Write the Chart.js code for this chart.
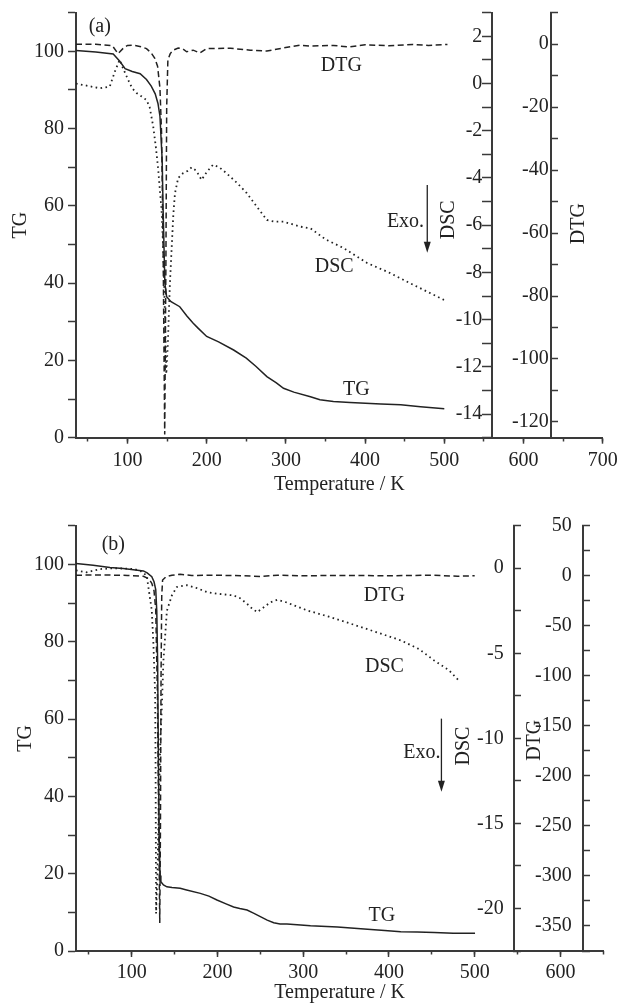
<!DOCTYPE html>
<html>
<head>
<meta charset="utf-8">
<script src="https://cdn.jsdelivr.net/npm/chart.js@4.4.1/dist/chart.umd.min.js"></script>
<style>
  html, body { margin: 0; padding: 0; background: #fff; }
  body { width: 619px; height: 1008px; position: relative; overflow: hidden; }
  .panel { position: absolute; left: 0; width: 619px; }
  #panelA { top: 0; height: 500px; }
  #panelB { top: 500px; height: 508px; }
</style>
</head>
<body>
<div class="panel" id="panelA"><canvas id="chartA" width="619" height="500"></canvas></div>
<div class="panel" id="panelB"><canvas id="chartB" width="619" height="508"></canvas></div>
<script>
// ---- panel (a) ----  temperatures (K) and readings
const tgA_T  = [35, 60, 82, 90, 97, 106, 116, 124, 130, 135, 138.5, 141, 143.8, 145, 147.2, 149.4, 155, 166, 175, 183, 189.4, 200, 215, 234, 250, 262, 276, 288, 297, 310, 331, 343, 360, 381, 420, 445, 470, 500];
const tgA    = [100.2, 99.8, 99.3, 97.5, 95.5, 94.8, 94.2, 92.7, 91, 89, 86.5, 83.2, 71.9, 59, 40, 36.5, 35.2, 33.9, 31.5, 29.6, 28.3, 26.2, 24.8, 22.7, 20.6, 18.5, 15.8, 14.2, 12.8, 11.8, 10.6, 9.8, 9.4, 9.1, 8.7, 8.5, 8.0, 7.5];
const dtgA_T = [35, 60, 81, 88, 95, 100, 107, 117, 124, 130, 134.5, 138, 141, 143, 145, 147, 148.5, 149.5, 151, 154, 157.7, 164, 170, 174.7, 183, 191.5, 200, 230, 255, 276, 297, 318, 331, 360, 380, 400, 430, 460, 480, 504];
const dtgA   = [0, 0, -0.5, -3, -1.2, -0.4, -0.3, -0.8, -1.4, -2.8, -4.5, -7, -14, -28, -65, -124, -70, -20, -5, -3, -1.9, -1.2, -1.5, -2.4, -1.9, -2.8, -1.4, -1.3, -1.9, -2.2, -1.2, -0.3, -0.6, -0.4, -0.9, -0.2, -0.5, -0.1, -0.4, -0.1];
const dscA_T = [35, 50, 65, 77.6, 84, 90, 95, 100.8, 106, 111.4, 118, 124, 128, 132.4, 135.5, 138.7, 143, 145, 147, 149, 151, 153.5, 155.7, 158, 160, 164, 170, 176, 181, 187, 193.5, 200, 208, 216, 225, 238, 250.6, 263, 276, 286, 297, 318, 331, 350, 373, 402.5, 430, 457, 500];
const dscA   = [0, -0.1, -0.2, -0.13, 0.5, 1.0, 0.6, 0.16, -0.2, -0.4, -0.55, -0.7, -1.0, -1.8, -2.6, -3.6, -5.35, -6.9, -9.5, -12.3, -11, -8.5, -7.0, -5.5, -4.64, -4.0, -3.8, -3.7, -3.55, -3.7, -4.08, -3.75, -3.44, -3.55, -3.8, -4.2, -4.64, -5.2, -5.78, -5.85, -5.85, -6.06, -6.13, -6.6, -6.97, -7.6, -8.0, -8.46, -9.17];

// ---- panel (b) ----
const tgB_T  = [35, 55, 74.6, 90, 101.9, 113.6, 118, 123.4, 126, 128, 129.2, 130.2, 131.1, 132, 133, 134, 137, 141, 147, 156.5, 164, 180, 190, 199.4, 210, 218.8, 226, 234.5, 242, 250, 258, 265.6, 273, 281, 297, 308.5, 340, 375, 395, 413.8, 433, 452.7, 475, 500.4];
const tgB    = [100.2, 99.8, 99.2, 98.9, 98.6, 98.3, 97.8, 96.8, 95.5, 93.5, 88, 75, 50, 30, 19.5, 17.9, 17.1, 16.6, 16.4, 16.2, 15.8, 14.9, 14.2, 13.2, 12.2, 11.4, 11.0, 10.6, 9.8, 8.9, 8.0, 7.3, 7.0, 7.0, 6.7, 6.5, 6.2, 5.6, 5.3, 5.0, 4.9, 4.8, 4.6, 4.6];
const dtgB_T = [35, 55, 74.6, 95, 113.6, 120, 123.4, 126, 128, 130, 131.5, 132.7, 133.5, 134.2, 135, 136, 140, 146.8, 156.5, 170, 200, 230, 250, 270, 300, 350, 400, 450, 480, 500];
const dtgB   = [0.5, 0.8, 0.7, 0.3, -0.5, -3, -7.6, -15, -34, -120, -250, -347, -250, -100, -20, -4.3, -1, 0.5, 1.5, 0.3, 0.5, 0, -0.8, 0.5, 0, 0.3, 0, 0.5, -0.5, 0];
const dscB_T = [35, 47, 63, 80, 101.9, 110, 117.5, 119.4, 123.4, 125.3, 127.3, 127.8, 128.4, 130, 131.5, 133.5, 135, 137, 141, 146.8, 152.6, 164.3, 175, 187.7, 200, 218.8, 226, 234.5, 240, 246.2, 254, 261.8, 269.6, 280, 290, 304.7, 330, 355.3, 385, 413.8, 435, 452.7, 470, 483.2];
const dscB   = [-0.13, -0.24, -0.05, 0, -0.04, -0.15, -0.43, -1.1, -2.48, -4.44, -7.4, -11.3, -20.3, -18, -14, -10, -8.3, -5.4, -2.5, -1.6, -1.1, -1.0, -1.15, -1.4, -1.5, -1.6, -1.75, -2.09, -2.35, -2.58, -2.3, -2.0, -1.86, -2.0, -2.2, -2.48, -2.85, -3.26, -3.75, -4.24, -4.75, -5.42, -6.0, -6.69];

const INK = '#222';
const AXIS = '#3a3a3a';
const SERIF = "'Liberation Serif', 'Times New Roman', serif";
const X_MIN = 35;
const PLOT_LEFT = 76;

Chart.defaults.font.family = SERIF;
Chart.defaults.font.size = 20;
Chart.defaults.color = INK;

const pts = (xs, ys) => xs.map((x, i) => ({ x, y: ys[i] }));
// label only every `step`, the ticks in between stay as minor marks
const every = step => v => (Math.abs(v / step - Math.round(v / step)) < 1e-6 ? String(v) : '');
// keep tick labels from pushing the plot area around
const noPad = s => { s.paddingTop = 0; s.paddingBottom = 0; s.paddingLeft = 0; s.paddingRight = 0; };

/* in-plot captions and the Exo. arrow, placed in data units of the x / TG scales */
const notesPlugin = {
  id: 'notes',
  afterDatasetsDraw(chart, args, opts) {
    const { ctx } = chart;
    const x = chart.scales.x, y = chart.scales.y;
    ctx.save();
    ctx.fillStyle = INK;
    ctx.strokeStyle = INK;
    ctx.font = `20px ${SERIF}`;
    ctx.textAlign = 'center';
    ctx.textBaseline = 'middle';
    (opts.labels || []).forEach(n => {
      ctx.save();
      ctx.translate(x.getPixelForValue(n.t), y.getPixelForValue(n.v));
      if (n.rotate) ctx.rotate(-Math.PI / 2);
      ctx.fillText(n.text, 0, 0);
      ctx.restore();
    });
    const a = opts.arrow;
    if (a) {
      const ax = x.getPixelForValue(a.t);
      const y0 = y.getPixelForValue(a.from), y1 = y.getPixelForValue(a.to);
      ctx.lineWidth = 1.3;
      ctx.beginPath(); ctx.moveTo(ax, y0); ctx.lineTo(ax, y1 - 9); ctx.stroke();
      ctx.beginPath();
      ctx.moveTo(ax - 3.5, y1 - 11); ctx.lineTo(ax + 3.5, y1 - 11); ctx.lineTo(ax, y1);
      ctx.closePath(); ctx.fill();
    }
    ctx.restore();
  }
};

function axisStyle(tickLength) {
  return {
    grid: { display: true, drawOnChartArea: false, drawTicks: true, tickLength, tickColor: AXIS, tickWidth: 1.5 },
    border: { display: true, color: AXIS, width: 2 },
  };
}

function line(label, data, yAxisID, dash, width) {
  return {
    label, data, yAxisID, xAxisID: 'x',
    borderColor: INK, borderWidth: width, borderDash: dash,
    pointRadius: 0, fill: false, tension: 0,
  };
}

/* a secondary y axis standing inside the plot: one scale draws the line + ticks,
   a twin with the same range carries the numbers a few pixels to its left */
function innerAxes(id, ax, pxPerUnit) {
  const range = { axis: 'y', type: 'linear', min: ax.min, max: ax.max, afterFit: noPad };
  const ticks = { stepSize: ax.step, includeBounds: false, autoSkip: false, padding: 0 };
  return {
    [id]: {
      ...range, position: { x: ax.at },
      ticks: { ...ticks, display: false },
      ...axisStyle(ax.tick),
    },
    [id + 'Labels']: {
      ...range, position: { x: ax.at - ax.gap / pxPerUnit },
      ticks: { ...ticks, callback: every(ax.major) },
      grid: { display: false },
      border: { display: false },
    },
  };
}

function build(canvasId, p) {
  const plotRight = 619 - p.pad.right;
  const pxPerUnit = (plotRight - PLOT_LEFT) / (p.xMax - X_MIN);
  return new Chart(document.getElementById(canvasId), {
    type: 'line',
    data: {
      datasets: [
        line('TG', p.tg, 'y', [], 1.5),
        line('DSC', p.dsc, 'dsc', [1.6, 3.4], 1.8),
        line('DTG', p.dtg, 'dtg', [6, 3.5], 1.5),
      ],
    },
    options: {
      responsive: false,
      animation: false,
      events: [],
      layout: { padding: p.pad },
      plugins: { legend: { display: false }, tooltip: { enabled: false }, notes: p.notes },
      scales: {
        x: {
          type: 'linear', position: 'bottom', min: X_MIN, max: p.xMax,
          ticks: { stepSize: 100, includeBounds: false, autoSkip: false, maxRotation: 0, padding: p.xTickPad, callback: v => String(v) },
          title: { display: true, text: 'Temperature / K', padding: { top: 0, bottom: p.xTitlePad } },
          afterFit: s => { s.height = p.xAxisHeight; noPad(s); },
          ...axisStyle(6),
        },
        xMinor: {
          axis: 'x', type: 'linear', position: { y: 0 }, min: X_MIN, max: p.xMax,
          ticks: { display: false, stepSize: 50, includeBounds: false, autoSkip: false },
          grid: { display: true, drawOnChartArea: false, tickLength: 3.5, tickColor: AXIS, tickWidth: 1.5 },
          border: { display: false },
          afterFit: noPad,
        },
        y: {
          type: 'linear', position: 'left', min: 0, max: 110,
          ticks: { stepSize: 10, autoSkip: false, padding: 4, callback: every(20) },
          title: { display: true, text: 'TG', padding: { top: p.tgTitlePad, bottom: 0 } },
          afterFit: s => { s.width = PLOT_LEFT; noPad(s); },
          ...axisStyle(8),
        },
        ...innerAxes('dsc', p.dscAxis, pxPerUnit),
        ...innerAxes('dtg', p.dtgAxis, pxPerUnit),
      },
    },
    plugins: [notesPlugin],
  });
}

build('chartA', {
  tg: pts(tgA_T, tgA), dsc: pts(dscA_T, dscA), dtg: pts(dtgA_T, dtgA),
  xMax: 700,
  pad: { left: 0, top: 12.7, right: 16.3, bottom: 0 },
  xAxisHeight: 62.3, xTickPad: 5, xTitlePad: 3, tgTitlePad: 9,
  dscAxis: { at: 560, min: -15, max: 3, step: 1, major: 2, tick: 9, gap: 9.5 },
  dtgAxis: { at: 635, min: -125, max: 10, step: 10, major: 20, tick: -8, gap: 2.5 },
  notes: {
    labels: [
      { text: '(a)', t: 65, v: 106.3 },
      { text: 'DTG', t: 370, v: 96.3 },
      { text: 'DSC', t: 361, v: 44.2 },
      { text: 'TG', t: 389, v: 12.5 },
      { text: 'Exo.', t: 451, v: 55.9 },
      { text: 'DSC', t: 505, v: 56.4, rotate: true },
      { text: 'DTG', t: 669.6, v: 55.4, rotate: true },
    ],
    arrow: { t: 478.5, from: 65.4, to: 47.9 },
  },
});

build('chartB', {
  tg: pts(tgB_T, tgB), dsc: pts(dscB_T, dscB), dtg: pts(dtgB_T, dtgB),
  xMax: 650,
  pad: { left: 0, top: 25.7, right: 15.7, bottom: 0 },
  xAxisHeight: 57, xTickPad: 4, xTitlePad: 3, tgTitlePad: 13.5,
  dscAxis: { at: 546, min: -22.5, max: 2.5, step: 2.5, major: 5, tick: -8, gap: 10.5 },
  dtgAxis: { at: 626, min: -375, max: 50, step: 25, major: 50, tick: -8, gap: 11 },
  notes: {
    labels: [
      { text: '(b)', t: 78.5, v: 105.2 },
      { text: 'DTG', t: 394.7, v: 92 },
      { text: 'DSC', t: 394.7, v: 73.5 },
      { text: 'TG', t: 391.6, v: 9.2 },
      { text: 'Exo.', t: 438.4, v: 51.3 },
      { text: 'DSC', t: 487, v: 53, rotate: true },
      { text: 'DTG', t: 570.5, v: 54.5, rotate: true },
    ],
    arrow: { t: 461.2, from: 60.1, to: 41.2 },
  },
});
</script>
</body>
</html>
